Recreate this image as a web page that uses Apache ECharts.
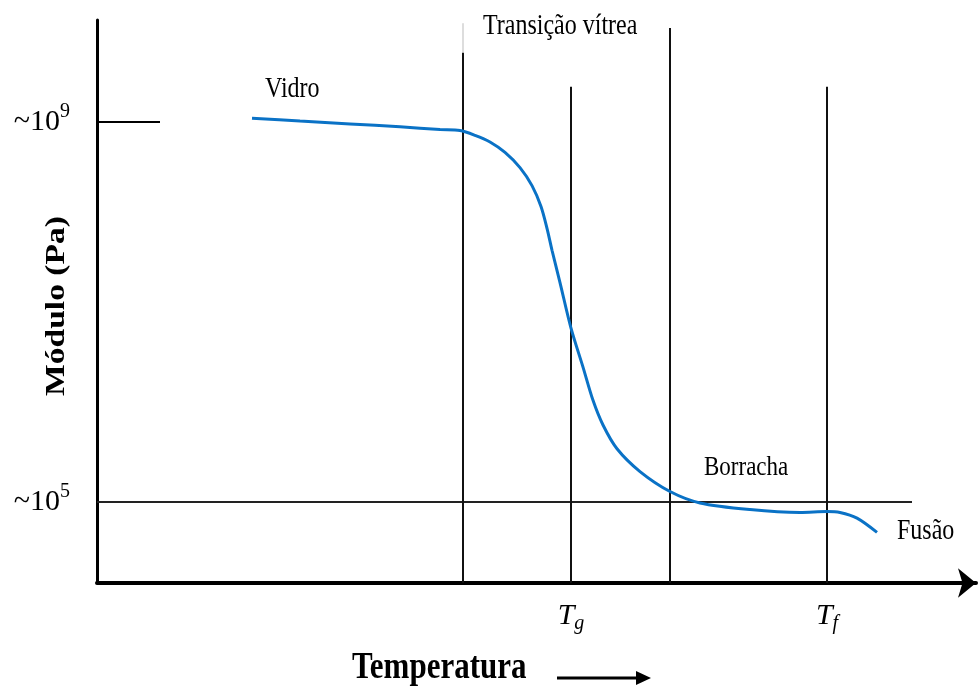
<!DOCTYPE html>
<html>
<head>
<meta charset="utf-8">
<script src="https://cdn.jsdelivr.net/npm/echarts@6/dist/echarts.min.js"></script>
<style>html,body{margin:0;padding:0;background:#fff;}#c{width:978px;height:686px;}</style>
</head>
<body>
<div id="c"></div>
<script>
// Temperature (arbitrary units) and log10(modulus / Pa)
const temps = [155,203,253,303,343,363,378,393,408,423,435,444,450,455,463,474,486,496,506,520,543,573,603,653,703,730,743,760,780];
const logModulus = [9.04,9.01,8.98,8.95,8.92,8.91,8.86,8.79,8.68,8.52,8.33,8.11,7.88,7.65,7.31,6.83,6.42,6.07,5.81,5.56,5.32,5.11,4.99,4.92,4.89,4.90,4.89,4.83,4.68];
// Region boundaries: start of glass transition, Tg, end of transition, Tf
const boundaryTemps = [366, 474, 573, 730];
const boundaryTops = [9.73, 9.37, 9.99, 9.37];
const yTickValues = [5, 9];
const xTickValues = [474, 730];
const xTickNames = ['g', 'f'];
const rubberLevel = 5;
const rubberLineEnd = 815;

const yMin = 4.147, yMax = 10.074, xMin = 0, xMax = 879;

const boundarySeries = boundaryTemps.map((t, i) => ({
  type: 'line', silent: true, symbol: 'none', animation: false,
  data: [[t, yMin], [t, boundaryTops[i]]],
  lineStyle: { color: '#111', width: 2 }
}));

const SY = 1.2; // vertical stretch of the reference lettering
function label(text, x, y, font, extra) {
  return Object.assign({ type: 'text', x: x, y: y, scaleY: SY,
    style: { text: text, font: font, fill: '#000', align: 'left', verticalAlign: 'middle' } }, extra || {});
}

const chart = echarts.init(document.getElementById('c'), null, { renderer: 'canvas' });
chart.setOption({
  backgroundColor: '#fff',
  animation: false,
  grid: { left: 97, right: 2, top: 20, bottom: 103 },
  xAxis: {
    type: 'value', min: xMin, max: xMax,
    splitLine: { show: false },
    axisLine: { onZero: false, lineStyle: { color: '#000', width: 4 }, symbol: ['none', 'arrow'], symbolSize: [22, 18] },
    axisTick: { show: false },
    axisLabel: {
      customValues: xTickValues, margin: 15,
      formatter: v => '{t|T}{s|' + xTickNames[xTickValues.indexOf(v)] + '}',
      rich: {
        t: { fontFamily: 'Liberation Serif', fontStyle: 'italic', fontSize: 30, color: '#000' },
        s: { fontFamily: 'Liberation Serif', fontStyle: 'italic', fontSize: 20, color: '#000', padding: [16, 0, 0, 0] }
      }
    }
  },
  yAxis: {
    type: 'value', min: yMin, max: yMax,
    splitLine: { show: false },
    axisLine: { onZero: false, lineStyle: { color: '#000', width: 3 } },
    axisTick: { show: true, customValues: [9], inside: true, length: 63, lineStyle: { color: '#000', width: 2 } },
    axisLabel: {
      customValues: yTickValues, margin: 27,
      formatter: v => '{b|~10}{s|' + v + '}',
      rich: {
        b: { fontFamily: 'Liberation Serif', fontSize: 30, color: '#000' },
        s: { fontFamily: 'Liberation Serif', fontSize: 20, color: '#000', padding: [0, 0, 20, 0] }
      }
    }
  },
  series: [
    { type: 'line', silent: true, symbol: 'none', animation: false,
      data: [[xMin, rubberLevel], [rubberLineEnd, rubberLevel]],
      lineStyle: { color: '#222', width: 2 } },
    { type: 'line', silent: true, symbol: 'none', animation: false,
      data: [[boundaryTemps[0], boundaryTops[0]], [boundaryTemps[0], 10.04]],
      lineStyle: { color: '#bbb', width: 1 } },
    ...boundarySeries,
    { type: 'line', symbol: 'none', smooth: 0.3, z: 5,
      data: temps.map((t, i) => [t, logModulus[i]]),
      lineStyle: { color: '#0a72c6', width: 3 } }
  ],
  graphic: [
    label('Transição vítrea', 483, 26, '24px "Liberation Serif"'),
    label('Vidro', 265, 89, '24px "Liberation Serif"'),
    label('Borracha', 704, 468, '23px "Liberation Serif"'),
    label('Fusão', 897, 531, '24px "Liberation Serif"'),
    label('Temperatura', 352, 668, 'bold 31px "Liberation Serif"'),
    { type: 'line', shape: { x1: 557, y1: 678, x2: 640, y2: 678 }, style: { stroke: '#000', lineWidth: 3 } },
    { type: 'polygon', shape: { points: [[636, 671], [651, 678], [636, 685]] }, style: { fill: '#000' } },
    { type: 'text', x: 57, y: 306, rotation: Math.PI / 2, scaleX: SY,
      style: { text: 'Módulo (Pa)', font: 'bold 28px "Liberation Serif"', fill: '#000', align: 'center', verticalAlign: 'middle' } }
  ]
});
</script>
</body>
</html>
